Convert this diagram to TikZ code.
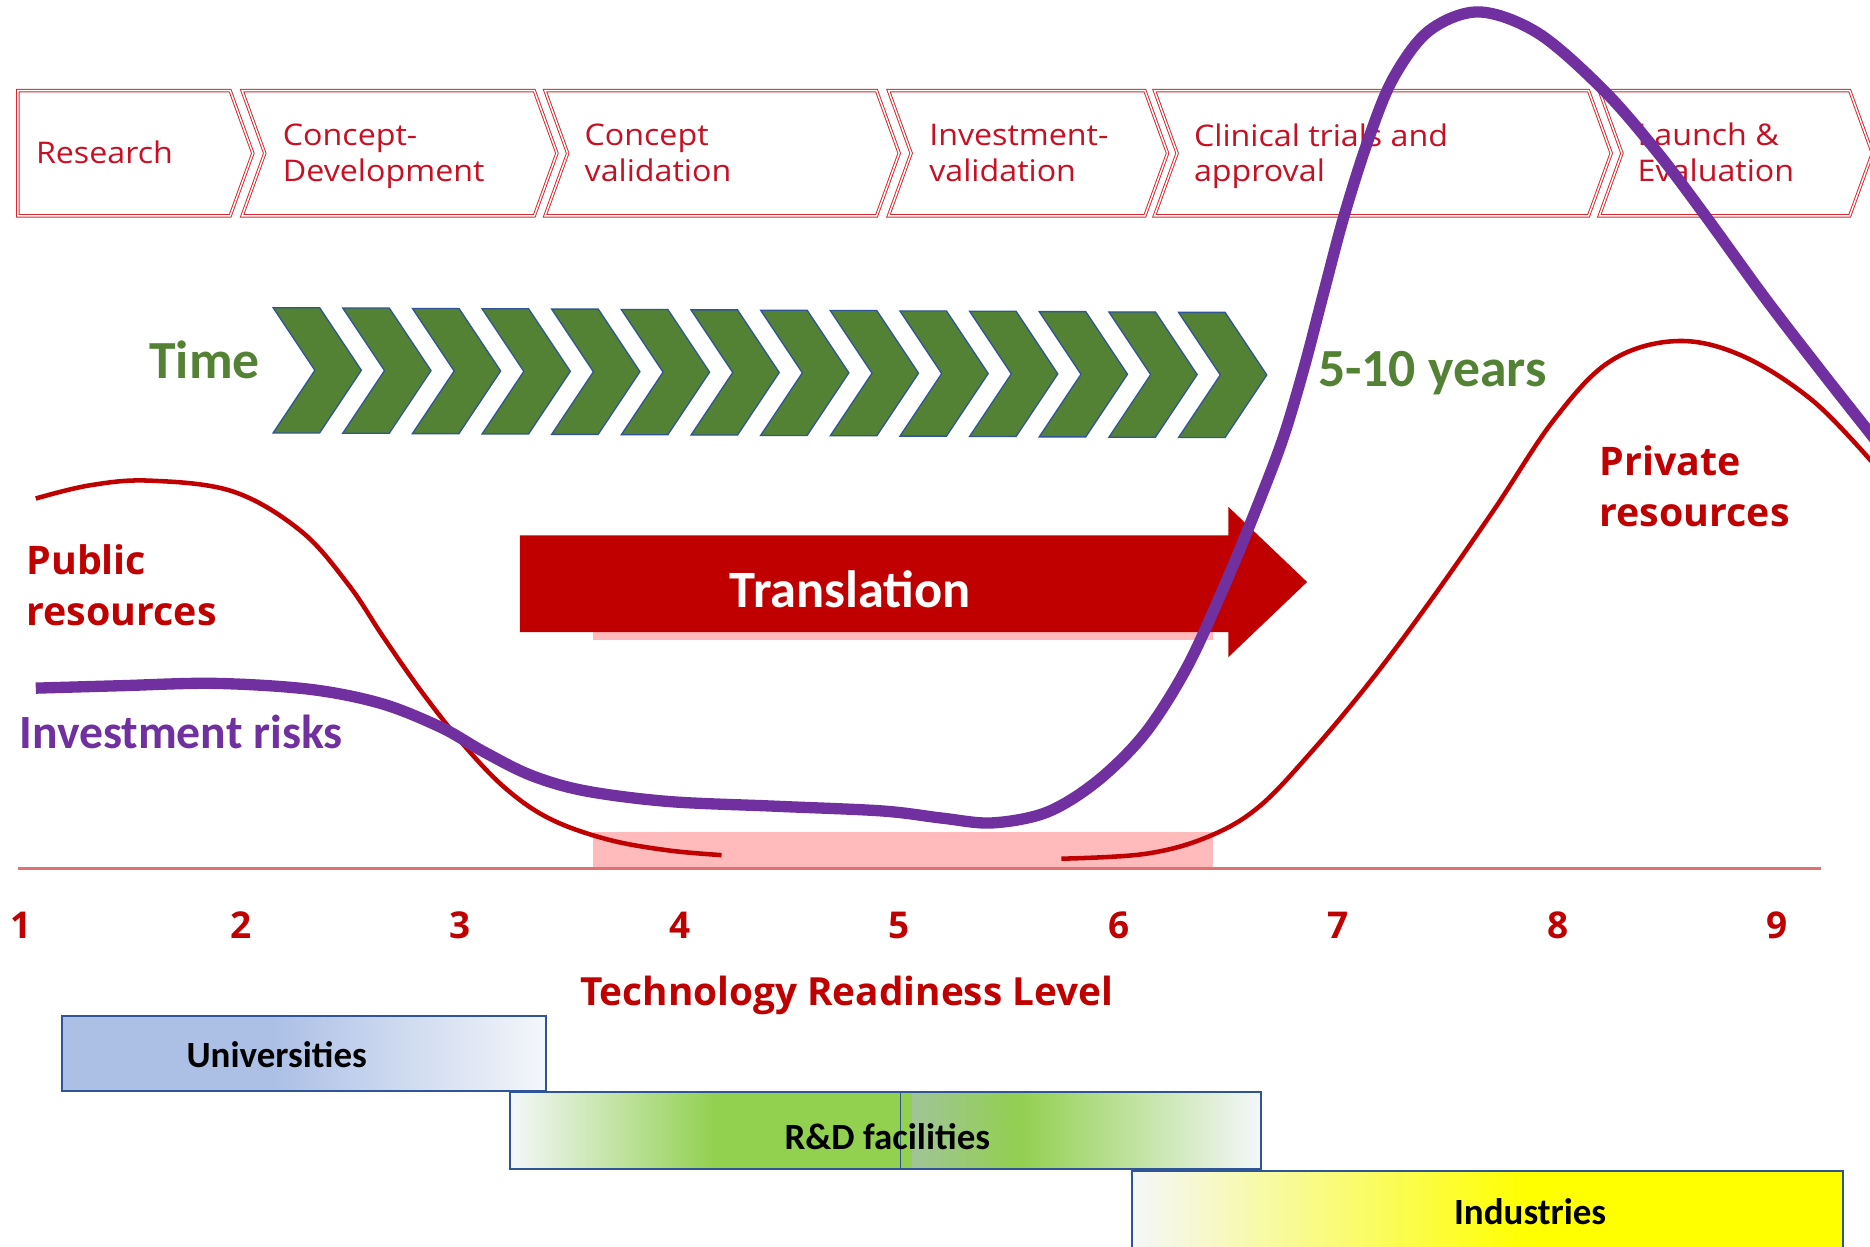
\documentclass[tikz,border=0pt]{standalone}
\usepackage{fontspec}
\setmainfont{Carlito}
\newfontfamily\chevfont[FakeStretch=1.08]{Open Sans}
\newfontfamily\osfont{Open Sans}
\usetikzlibrary{calc}
\definecolor{chevred}{RGB}{214,40,46}
\definecolor{chevtext}{RGB}{200,16,36}
\definecolor{dred}{RGB}{192,0,0}
\definecolor{axisred}{RGB}{226,112,112}
\definecolor{pinkfill}{RGB}{255,187,187}
\definecolor{tgreen}{RGB}{84,130,53}
\definecolor{tblue}{RGB}{47,85,151}
\definecolor{riskpurple}{RGB}{112,48,160}
\definecolor{unblue}{RGB}{172,192,230}
\definecolor{rdgreen}{RGB}{146,208,80}
\definecolor{rdgrey}{RGB}{160,196,150}
\definecolor{inyellow}{RGB}{255,255,0}
\definecolor{paleend}{RGB}{244,247,250}
\tikzset{
  chevbox/.style={draw=chevred, line width=0.8pt, double=white, double distance=1.2pt, fill=white, line join=miter},
  chevtxt/.style={anchor=west, align=left, inner sep=0pt, text=chevtext, font=\chevfont\fontsize{25}{30}\selectfont},
  greenchev/.style={fill=tgreen, draw=tblue, line width=1.1pt, line join=miter},
  greenlbl/.style={inner sep=0pt, text=tgreen, font=\bfseries\fontsize{45}{50}\selectfont},
  redlbl/.style={anchor=west, align=left, inner sep=0pt, text=dred, font=\osfont\bfseries\fontsize{33}{43}\selectfont},
  numlbl/.style={inner sep=0pt, text=dred, font=\osfont\bfseries\fontsize{31}{36}\selectfont},
  rescurve/.style={draw=dred, line width=3.8pt},
  riskcurve/.style={draw=riskpurple, line width=9.5pt},
  boxframe/.style={draw=tblue, line width=1.6pt},
  boxtxt/.style={inner sep=0pt, text=black, font=\bfseries\fontsize{31}{36}\selectfont},
}
\begin{document}
\begin{tikzpicture}[x=1pt,y=-1pt]
\useasboundingbox[fill=white] (0,0) rectangle (1568,1045);

% ---- top process chevrons
\draw[chevbox] (15,76) -- (193,76) -- (212,128.5) -- (193,181) -- (15,181) -- cycle;
\foreach \L/\R in {203/448, 457/735, 745/960, 968/1332, 1341/1551}{
  \draw[chevbox] (\L,76) -- (\R,76) -- (\R+19,128.5) -- (\R,181) -- (\L,181) -- (\L+19,128.5) -- cycle;
}
\node[chevtxt] (research) at (30,128) {Research};
\node[chevtxt] (cdev) at (237,131) {Concept-\\Development};
\node[chevtxt] (cval) at (490,128) {Concept\\validation};
\node[chevtxt] (ival) at (779,128) {Investment-\\validation};
\node[chevtxt] (clin) at (1001,131) {Clinical trials and\\approval};
\node[chevtxt] (launch) at (1373,128) {Launch \&\\Evaluation};

% ---- time chevrons
\foreach \i in {0,...,13}{
  \pgfmathsetmacro\L{229+58.4*\i}
  \pgfmathsetmacro\T{258+0.3*\i}
  \draw[greenchev] (\L,\T) -- (\L+39,\T) -- (\L+74,\T+52.5) -- (\L+39,\T+105) -- (\L,\T+105) -- (\L+35,\T+52.5) -- cycle;
}
\node[greenlbl, anchor=base west] (time) at (125,317) {Time};
\node[greenlbl, anchor=base west] (years) at (1105,324) {5-10 years};

% ---- translation arrow
\fill[pinkfill] (497,530) rectangle (1017,537);
\fill[dred] (436,449) -- (1030,449) -- (1030,425) -- (1096,488) -- (1030,551) -- (1030,530) -- (436,530) -- cycle;
\node[inner sep=0pt, text=white, font=\bfseries\fontsize{44}{50}\selectfont] (transl) at (713,494) {Translation};

% ---- baseline band and axis
\fill[pinkfill] (497,698) rectangle (1017,728);
\draw[axisred, line width=2.5pt] (15,728) -- (1527,728);

% ---- resource curves
\draw[rescurve] plot[smooth, tension=0.6] coordinates {(30,418) (75,407) (125,403) (195,412) (252,445) (292,490) (322,535) (355,582) (390,626) (425,662) (462,687) (510,704) (560,713) (605,717)};
\draw[rescurve] plot[smooth, tension=0.6] coordinates {(890,720) (960,716) (1012,702) (1055,677) (1100,630) (1150,570) (1200,503) (1253,427) (1303,352) (1350,303) (1405,286) (1460,298) (1520,336) (1572,390)};

\node[redlbl] (public) at (22,491) {Public\\resources};
\node[redlbl] (private) at (1341,408) {Private\\resources};

% ---- investment risk curve
\draw[riskcurve] plot[smooth, tension=0.55] coordinates {(30,577) (100,575) (180,573) (260,578) (320,590) (370,610) (405,630) (445,650) (490,663) (560,672) (650,676) (740,680) (790,686) (832,690) (878,681) (920,655) (960,615) (995,560) (1025,495) (1050,435) (1075,370) (1093,310) (1110,245) (1127,181) (1147,118) (1168,66) (1198,26) (1240,10) (1290,28) (1345,76) (1390,128) (1430,181) (1480,250) (1530,315) (1575,372)};
\node[anchor=west, inner sep=0pt, text=riskpurple, font=\bfseries\fontsize{40}{44}\selectfont] (risk) at (16,614) {Investment risks};

% ---- TRL axis labels
\foreach \n in {1,...,9}{
  \node[numlbl] (trl\n) at ({18+184*(\n-1)},776) {\n};
}
\node[numlbl, font=\osfont\bfseries\fontsize{32.5}{38}\selectfont, anchor=base] (trl) at (710,843) {Technology Readiness Level};

% ---- actor boxes
\fill[unblue] (52,852) rectangle (230,915);
\shade[left color=unblue, right color=paleend] (230,852) rectangle (458,915);
\draw[boxframe] (52,852) rectangle (458,915);
\node[boxtxt] (univ) at (232,884) {Universities};

\shade[left color=paleend, right color=rdgreen] (428,916) rectangle (600,980);
\fill[rdgreen] (600,916) rectangle (765,980);
\shade[left color=rdgrey, right color=rdgreen] (765,916) rectangle (855,980);
\shade[left color=rdgreen, right color=paleend] (855,916) rectangle (1057,980);
\draw[tblue, line width=0.8pt] (755,916) -- (755,980);
\draw[boxframe] (428,916) rectangle (1057,980);
\node[boxtxt] (rnd) at (744,953) {R\&D facilities};

\shade[left color=paleend, right color=inyellow] (949,982) rectangle (1280,1050);
\fill[inyellow] (1280,982) rectangle (1545,1050);
\draw[boxframe] (949,1050) -- (949,982) -- (1545,982) -- (1545,1050);
\node[boxtxt] (ind) at (1283,1016) {Industries};
\end{tikzpicture}
\end{document}
